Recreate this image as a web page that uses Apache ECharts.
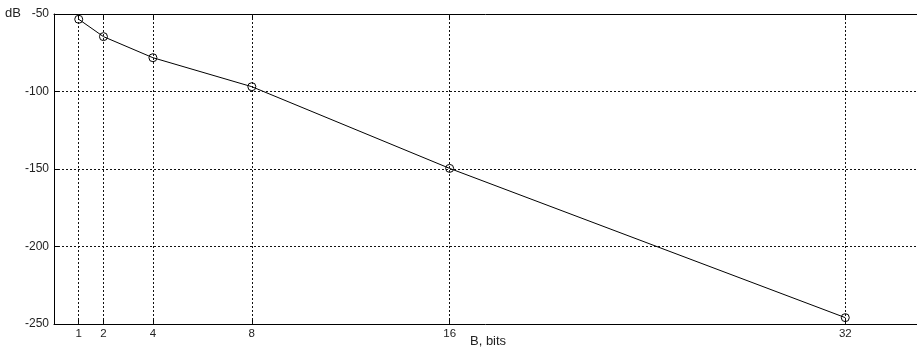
<!DOCTYPE html>
<html>
<head>
<meta charset="utf-8">
<script src="https://cdn.jsdelivr.net/npm/echarts@6/dist/echarts.min.js"></script>
<style>
  html, body { margin: 0; padding: 0; background: #ffffff; }
  #chart { width: 917px; height: 353px; }
</style>
</head>
<body>
<div id="chart"></div>
<script>
// Quantisation noise level against word length
const bits = [1, 2, 4, 8, 16, 32];
const levelDb = [-53.4, -64.6, -78.2, -96.9, -149.6, -245.9];
const xTicks = [1, 2, 4, 8, 16, 32];
const yTicks = [-250, -200, -150, -100, -50];

const FONT = 'Liberation Sans, Arial, sans-serif';
const dash = [2, 2];
const X_MAX = 34.9;

const chart = echarts.init(document.getElementById('chart'), null, { renderer: 'canvas' });

chart.setOption({
  animation: false,
  backgroundColor: '#ffffff',
  grid: { left: 54, top: 14, right: 0, height: 310, containLabel: false },
  xAxis: [
    {
      type: 'value', min: 0, max: X_MAX, position: 'bottom',
      axisLine: { show: true, lineStyle: { color: '#000', width: 1 } },
      axisTick: { show: true, inside: true, length: 5, customValues: xTicks, lineStyle: { color: '#000' } },
      axisLabel: { show: true, customValues: xTicks, color: '#222', fontFamily: FONT, fontSize: 11.5, margin: 4 },
      splitLine: { show: false }
    },
    {
      type: 'value', min: 0, max: X_MAX, position: 'top',
      axisLine: { show: true, lineStyle: { color: '#000', width: 1 } },
      axisTick: { show: true, inside: true, length: 5, customValues: xTicks, lineStyle: { color: '#000' } },
      axisLabel: { show: false },
      splitLine: { show: false }
    }
  ],
  yAxis: {
    type: 'value', min: yTicks[0], max: yTicks[yTicks.length - 1], interval: 50,
    axisLine: { show: true, lineStyle: { color: '#000', width: 1 } },
    axisTick: { show: true, inside: true, length: 5, lineStyle: { color: '#000' } },
    axisLabel: { color: '#222', fontFamily: FONT, fontSize: 12, margin: 5 },
    splitLine: { show: true, lineStyle: { color: '#111', width: 1, type: dash } }
  },
  graphic: [
    { type: 'text', left: 5, top: 7, style: { text: 'dB', font: '13px ' + FONT, fill: '#222' } },
    { type: 'text', left: 470, top: 335, style: { text: 'B, bits', font: '13px ' + FONT, fill: '#222' } }
  ],
  series: [
    {
      type: 'line',
      data: bits.map((b, i) => [b, levelDb[i]]),
      symbol: 'circle',
      symbolSize: 8,
      showAllSymbol: true,
      lineStyle: { color: '#000', width: 1 },
      itemStyle: { color: 'rgba(0,0,0,0)', borderColor: '#000', borderWidth: 1 },
      z: 5,
      markLine: {
        silent: true,
        symbol: 'none',
        label: { show: false },
        lineStyle: { color: '#111', width: 1, type: dash },
        data: xTicks.map(v => ({ xAxis: v }))
      }
    }
  ]
});
</script>
</body>
</html>
